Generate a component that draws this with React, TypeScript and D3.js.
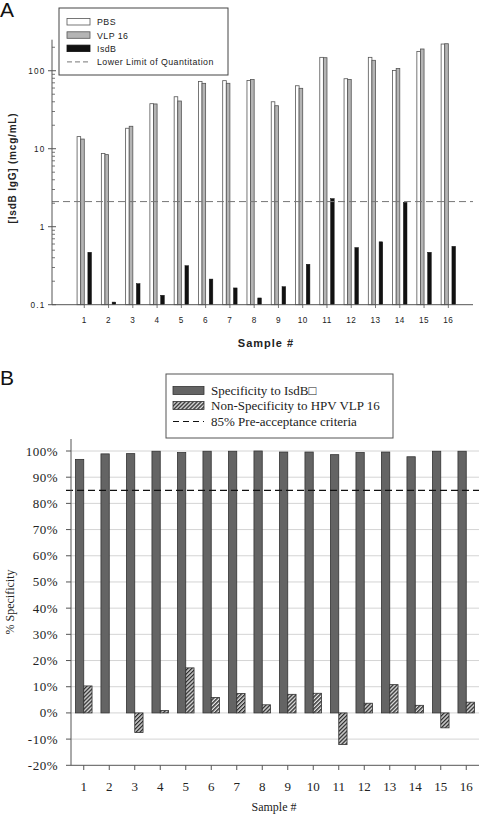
import React from "react";
import * as d3 from "d3";

// ---------- Panel A data ----------
const samples = ["1","2","3","4","5","6","7","8","9","10","11","12","13","14","15","16"];
const pbs = [14.3, 8.7, 18.3, 37.8, 46.4, 73, 74.6, 75, 40, 64.2, 148.5, 79, 148.5, 101, 177, 220];
const vlp16 = [13.3, 8.4, 19.4, 37.5, 40.9, 68.9, 69, 77, 35.6, 59.5, 147, 77, 136, 107, 190, 222];
const isdb = [0.47, 0.108, 0.186, 0.132, 0.316, 0.213, 0.164, 0.122, 0.17, 0.33, 2.29, 0.54, 0.64, 2.05, 0.47, 0.56];
const lloq = 2.1;
const logTicks = [0.1, 1, 10, 100];
const logTickLabels = ["0.1", "1", "10", "100"];
const legendA = ["PBS", "VLP 16", "IsdB", "Lower Limit of Quantitation"];

// ---------- Panel B data ----------
const specIsdB = [96.8, 98.9, 99.0, 99.9, 99.4, 99.9, 99.9, 100, 99.6, 99.6, 98.6, 99.4, 99.6, 97.8, 99.9, 99.9];
const nonSpecVLP = [10.3, 0, -7.5, 0.9, 17.2, 5.9, 7.4, 3.1, 7.1, 7.5, -12.1, 3.7, 10.8, 2.9, -5.7, 4.1];
const criteria = 85;
const pctTicks = [-20, -10, 0, 10, 20, 30, 40, 50, 60, 70, 80, 90, 100];
const legendB = ["Specificity to IsdB\u25A1", "Non-Specificity to HPV VLP 16", "85% Pre-acceptance criteria"];

const SANS = "'Liberation Sans', Arial, sans-serif";
const SERIF = "'Liberation Serif', 'Times New Roman', serif";

export default function App() {
  // Panel A scales
  const xA = d3.scaleLinear().domain([-0.33, 17]).range([52, 472.6]);
  const yA = d3.scaleLog().domain([0.1, 250]).range([304.7, 39.7]);
  const slot = 3.6;
  const minorTicks: number[] = [];
  [0.1, 1, 10, 100].forEach((d) => {
    for (let k = 2; k <= 9; k++) {
      const v = d * k;
      if (v <= 250) minorTicks.push(v);
    }
  });

  // Panel B scales
  const xB = d3.scaleBand().domain(samples).range([71, 479]).padding(0);
  const yB = d3.scaleLinear().domain([-20, 100]).range([765.3, 451]);
  const bw = 8.3;

  return (
    <svg width={480} height={814} style={{ position: "absolute", left: 0, top: 0, background: "#fff" }}>
      <defs>
        <pattern id="hatch" width="2.8" height="2.8" patternUnits="userSpaceOnUse" patternTransform="rotate(45)">
          <rect width="2.8" height="2.8" fill="#e4e4e4" />
          <line x1="0.7" y1="0" x2="0.7" y2="2.8" stroke="#2a2a2a" strokeWidth="1.4" />
        </pattern>
      </defs>

      {/* ================= PANEL A ================= */}
      <text x={0} y={17} fontFamily={SANS} fontSize={21} fill="#111">A</text>

      {/* bars */}
      {samples.map((s, i) => {
        const c = xA(i + 1);
        return (
          <g key={"a" + s}>
            <rect x={c - 2 * slot} y={yA(pbs[i])} width={slot} height={yA(0.1) - yA(pbs[i])} fill="#fff" stroke="#555" strokeWidth={0.8} />
            <rect x={c - slot} y={yA(vlp16[i])} width={slot} height={yA(0.1) - yA(vlp16[i])} fill="#b4b4b4" stroke="#555" strokeWidth={0.8} />
            <rect x={c + slot} y={yA(isdb[i])} width={slot} height={yA(0.1) - yA(isdb[i])} fill="#111" stroke="#111" strokeWidth={0.5} />
          </g>
        );
      })}

      {/* LLOQ dashed line */}
      <line x1={52} x2={473} y1={yA(lloq)} y2={yA(lloq)} stroke="#777" strokeWidth={1} strokeDasharray="7,4" />

      {/* y axis */}
      <line x1={52} x2={52} y1={39.7} y2={304.7} stroke="#555" strokeWidth={1} />
      {minorTicks.map((v, i) => (
        <line key={"mt" + i} x1={52} x2={55} y1={yA(v)} y2={yA(v)} stroke="#555" strokeWidth={0.8} />
      ))}
      {logTicks.map((v, i) => (
        <g key={"lt" + i}>
          <line x1={48} x2={56} y1={yA(v)} y2={yA(v)} stroke="#555" strokeWidth={1} />
          <text x={45.5} y={yA(v) + 2.8} textAnchor="end" fontFamily={SANS} fontSize={8.2} letterSpacing={1.2} fill="#222">{logTickLabels[i]}</text>
        </g>
      ))}
      {/* x axis */}
      <line x1={52} x2={473} y1={304.7} y2={304.7} stroke="#555" strokeWidth={1} />
      {samples.map((s, i) => (
        <g key={"xa" + s}>
          <line x1={xA(i + 1)} x2={xA(i + 1)} y1={304.7} y2={308} stroke="#555" strokeWidth={0.8} />
          <text x={xA(i + 1)} y={323} textAnchor="middle" fontFamily={SANS} fontSize={8.2} letterSpacing={0.5} fill="#222">{s}</text>
        </g>
      ))}
      <text x={266} y={347} textAnchor="middle" fontFamily={SANS} fontSize={11} fontWeight="bold" letterSpacing={1} fill="#222">Sample #</text>
      <text transform="translate(16,168) rotate(-90)" textAnchor="middle" fontFamily={SANS} fontSize={10} fontWeight="bold" letterSpacing={0.8} fill="#222">[IsdB IgG] (mcg/mL)</text>

      {/* legend A */}
      <rect x={59} y={8} width={169} height={67} fill="#fff" stroke="#444" strokeWidth={1} />
      {legendA.map((t, i) => {
        const y = 22 + i * 13.3;
        return (
          <g key={"la" + i}>
            {i < 3 ? (
              <rect x={67} y={y - 3.5} width={23} height={6.5} fill={i === 0 ? "#fff" : i === 1 ? "#b4b4b4" : "#111"} stroke={i === 2 ? "#111" : "#555"} strokeWidth={0.8} />
            ) : (
              <line x1={67} x2={90} y1={y} y2={y} stroke="#777" strokeWidth={1} strokeDasharray="5,3" />
            )}
            <text x={97} y={y + 3.2} fontFamily={SANS} fontSize={8.8} letterSpacing={0.45} fill="#222">{t}</text>
          </g>
        );
      })}

      {/* ================= PANEL B ================= */}
      <text x={0} y={385} fontFamily={SANS} fontSize={21} fill="#111">B</text>

      {/* gridlines */}
      {pctTicks.filter((v) => v > -20).map((v) => (
        <line key={"g" + v} x1={71} x2={479} y1={yB(v)} y2={yB(v)} stroke="#d4d4d4" strokeWidth={1} />
      ))}

      {/* bars */}
      {samples.map((s, i) => {
        const c = (xB(s) as number) + xB.bandwidth() / 2;
        const h = nonSpecVLP[i];
        return (
          <g key={"b" + s}>
            <rect x={c - bw} y={yB(specIsdB[i])} width={bw} height={yB(0) - yB(specIsdB[i])} fill="#646464" stroke="#333" strokeWidth={0.8} />
            {h !== 0 && (
              <rect x={c} y={Math.min(yB(h), yB(0))} width={bw} height={Math.abs(yB(0) - yB(h))} fill="url(#hatch)" stroke="#333" strokeWidth={0.8} />
            )}
          </g>
        );
      })}

      {/* criteria dashed line */}
      <line x1={66} x2={479} y1={yB(criteria)} y2={yB(criteria)} stroke="#111" strokeWidth={1.2} strokeDasharray="7,4" />

      {/* y axis B */}
      <line x1={71} x2={71} y1={439} y2={765.3} stroke="#555" strokeWidth={1} />
      {pctTicks.map((v) => (
        <g key={"yt" + v}>
          <line x1={66} x2={71} y1={yB(v)} y2={yB(v)} stroke="#555" strokeWidth={1} />
          <text x={58} y={yB(v) + 4.5} textAnchor="end" fontFamily={SERIF} fontSize={13} letterSpacing={0.5} fill="#222">{v + "%"}</text>
        </g>
      ))}
      {/* x axis B */}
      <line x1={71} x2={479} y1={765.3} y2={765.3} stroke="#555" strokeWidth={1} />
      {samples.map((s) => {
        const c = (xB(s) as number) + xB.bandwidth() / 2;
        return (
          <g key={"xb" + s}>
            <line x1={c} x2={c} y1={765.3} y2={770} stroke="#555" strokeWidth={1} />
            <text x={c} y={791} textAnchor="middle" fontFamily={SERIF} fontSize={13} fill="#222">{s}</text>
          </g>
        );
      })}
      <text x={274} y={811} textAnchor="middle" fontFamily={SERIF} fontSize={12} fill="#222">Sample #</text>
      <text transform="translate(14,602) rotate(-90)" textAnchor="middle" fontFamily={SERIF} fontSize={12} fill="#222">% Specificity</text>

      {/* legend B */}
      <rect x={166} y={374} width={227} height={64} fill="#fff" stroke="#555" strokeWidth={1} />
      {legendB.map((t, i) => {
        const y = [390.5, 405.5, 421.5][i];
        return (
          <g key={"lb" + i}>
            {i < 2 ? (
              <rect x={173} y={y - 4} width={31} height={8} fill={i === 0 ? "#646464" : "url(#hatch)"} stroke="#333" strokeWidth={0.8} />
            ) : (
              <line x1={173} x2={204} y1={y} y2={y} stroke="#111" strokeWidth={1} strokeDasharray="6,4" />
            )}
            <text x={211} y={y + 4.3} fontFamily={SERIF} fontSize={13} fill="#222">{t}</text>
          </g>
        );
      })}
    </svg>
  );
}
